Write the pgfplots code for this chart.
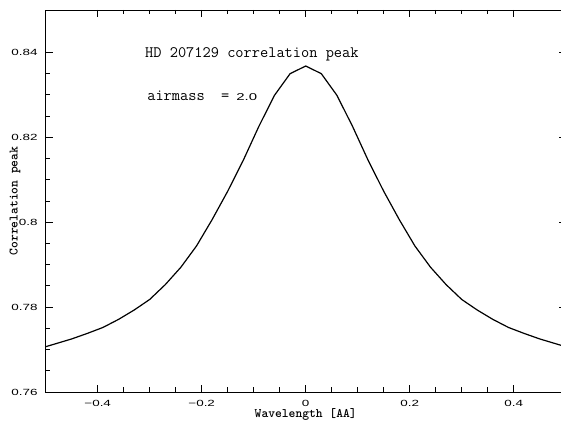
\documentclass[border=0pt]{standalone}
\usepackage{fontspec}
\usepackage{pgfplots}
\pgfplotsset{compat=1.18}
\newfontfamily\tickfont[FakeStretch=1.5]{Liberation Sans}

\begin{document}
\begin{tikzpicture}
\begin{axis}[
  scale only axis,
  width=520bp, height=382bp,
  xmin=-0.5, xmax=0.5,
  ymin=0.76, ymax=0.85,
  axis line style={line width=0.9bp},
  every tick/.style={black, line width=0.8bp},
  major tick length=7bp,
  minor tick length=4.5bp,
  tick align=inside,
  xtick={-0.4,-0.2,0,0.2,0.4},
  xticklabels={−0.4,−0.2,0,0.2,0.4},
  ytick={0.76,0.78,0.8,0.82,0.84},
  yticklabels={0.76,0.78,0.8,0.82,0.84},
  minor x tick num=3,
  minor y tick num=3,
  ticklabel style={font=\tickfont\fontsize{9}{10}\selectfont},
  xticklabel style={inner sep=0pt, anchor=north, yshift=-8bp},
  yticklabel style={inner sep=0pt, anchor=east, xshift=-8bp},
  xlabel={Wavelength [AA]},
  ylabel={Correlation peak},
  every axis x label/.style={at={(axis description cs:0.5,0)}, anchor=base, inner sep=0pt, yshift=-25.5bp,
    font=\ttfamily\bfseries\fontsize{13}{15}\selectfont},
  every axis y label/.style={at={(axis description cs:0,0.5)}, anchor=center, rotate=90, inner sep=0pt, yshift=30.7bp,
    font=\ttfamily\bfseries\fontsize{13}{15}\selectfont},
]
\addplot[black, line width=1.2bp] coordinates {
  (-0.51,0.7703) (-0.48,0.7714) (-0.45,0.7725) (-0.42,0.7738)
  (-0.39,0.7752) (-0.36,0.7771) (-0.33,0.7793) (-0.30,0.7818)
  (-0.27,0.7853) (-0.24,0.7894) (-0.21,0.7944) (-0.18,0.8006)
  (-0.15,0.8073) (-0.12,0.8146) (-0.09,0.8226) (-0.06,0.8299)
  (-0.03,0.8350) (0.00,0.8368) (0.03,0.8350) (0.06,0.8299)
  (0.09,0.8226) (0.12,0.8146) (0.15,0.8073) (0.18,0.8006)
  (0.21,0.7944) (0.24,0.7894) (0.27,0.7853) (0.30,0.7818)
  (0.33,0.7793) (0.36,0.7771) (0.39,0.7752) (0.42,0.7738)
  (0.45,0.7725) (0.48,0.7714) (0.51,0.7703)
};
\node[anchor=base west, inner sep=0pt, font=\ttfamily\fontsize{16}{18}\selectfont]
  at (axis cs:-0.309,0.8388) {HD 207129 correlation peak};
\node[anchor=base west, inner sep=0pt, font=\ttfamily\fontsize{16}{18}\selectfont]
  at (axis cs:-0.305,0.8287) {airmass\ \ =\hspace{7bp}{\tickfont\fontsize{10}{12}\selectfont 2.0}};
\end{axis}
\pgfresetboundingbox
\path[use as bounding box] ([xshift=-45.7bp,yshift=-29bp]current axis.south west)
  rectangle ([xshift=-4.7bp,yshift=10bp]current axis.north east);
\end{tikzpicture}
\end{document}
